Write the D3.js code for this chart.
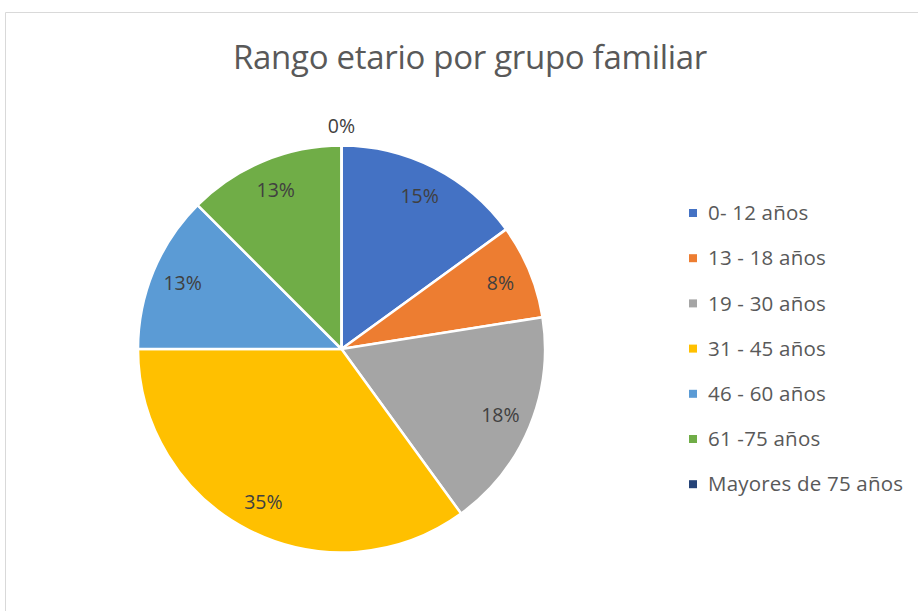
<!DOCTYPE html>
<html>
<head>
<meta charset="utf-8">
<script src="https://cdn.jsdelivr.net/npm/d3@7"></script>
<style>
  body { margin: 0; background: #fff; }
  svg { display: block; }
  text { font-family: "Open Sans", "Liberation Sans", sans-serif; }
</style>
</head>
<body>
<div id="viz"></div>
<script>
const width = 918;
const height = 611;

// Data (counts that give the shown percentages)
const categories = ['0- 12 años', '13 - 18 años', '19 - 30 años', '31 - 45 años', '46 - 60 años', '61 -75 años', 'Mayores de 75 años'];
const values = [6, 3, 7, 14, 5, 5, 0];
const colors = ['#4472c4', '#ed7d31', '#a5a5a5', '#ffc000', '#5b9bd5', '#70ad47', '#264478'];

const cx = 341.5, cy = 349, radius = 203.5;

const svg = d3.select('#viz')
  .append('svg')
    .attr('width', width)
    .attr('height', height);

// chart area border (only top and left edges are visible in the frame)
svg.append('path')
  .attr('d', `M5.5,${height} L5.5,12.5 L${width},12.5`)
  .attr('fill', 'none')
  .attr('stroke', '#d9d9d9')
  .attr('stroke-width', 1);

svg.append('text')
  .attr('x', 470)
  .attr('y', 69)
  .attr('text-anchor', 'middle')
  .style('font-size', '33px')
  .style('fill', '#595959')
  .style('letter-spacing', '-0.3px')
  .text('Rango etario por grupo familiar');

const rows = categories.map((c, i) => ({name: c, value: values[i], color: colors[i]}));
const total = d3.sum(values);

const pie = d3.pie().value(d => d.value).sort(null);
const arcs = pie(rows);
const arc = d3.arc().innerRadius(0).outerRadius(radius);
const labelArc = d3.arc().innerRadius(172).outerRadius(172);
const outerLabelArc = d3.arc().innerRadius(223).outerRadius(223);

const g = svg.append('g').attr('transform', `translate(${cx},${cy})`);

g.selectAll('path.slice')
  .data(arcs)
  .join('path')
    .attr('class', 'slice')
    .attr('d', arc)
    .attr('fill', d => d.data.color)
    .attr('stroke', '#fff')
    .attr('stroke-width', 2.5)
    .attr('stroke-linejoin', 'round');

g.selectAll('text.lbl')
  .data(arcs)
  .join('text')
    .attr('class', 'lbl')
    .attr('transform', d => `translate(${(d.value > 0 ? labelArc : outerLabelArc).centroid(d)})`)
    .attr('text-anchor', 'middle')
    .attr('dy', '0.35em')
    .style('font-size', '19.5px')
    .style('fill', '#404040')
    .text(d => Math.round(d.value / total * 100) + '%');

const legend = svg.append('g').attr('transform', 'translate(689,213)');
const item = legend.selectAll('g')
  .data(rows)
  .join('g')
    .attr('transform', (d, i) => `translate(0,${i * 45.2})`);

item.append('rect')
  .attr('x', 0).attr('y', -4)
  .attr('width', 8).attr('height', 8)
  .attr('fill', d => d.color);

item.append('text')
  .attr('x', 19)
  .attr('dy', '0.35em')
  .style('font-size', '20.5px')
  .style('fill', '#595959')
  .style('letter-spacing', '0.2px')
  .text(d => d.name);
</script>
</body>
</html>
